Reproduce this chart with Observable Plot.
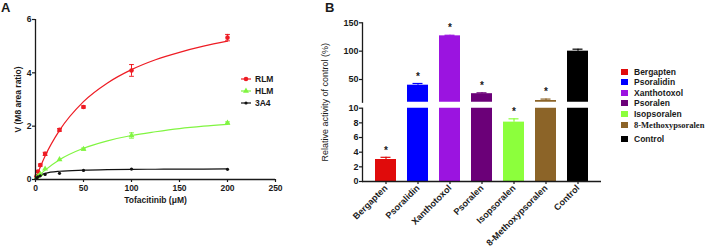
<!DOCTYPE html>
<html><head><meta charset="utf-8">
<script src="https://cdn.jsdelivr.net/npm/d3@7"></script>
<script src="https://cdn.jsdelivr.net/npm/@observablehq/plot@0.6"></script>
<style>
html,body{margin:0;padding:0;background:#fff;}
#root{position:relative;width:708px;height:250px;overflow:hidden;font-family:"Liberation Sans",Arial,sans-serif;color:#1a1a1a;}
.panel{position:absolute;font-weight:bold;font-size:13px;line-height:13px;}
.legrow{position:absolute;font-weight:bold;font-size:8.5px;line-height:10px;white-space:nowrap;}
.sw{position:absolute;}
</style></head><body><div id="root"></div>
<script>
// ---------- Panel A data ----------
const conc = [1, 2.5, 5, 10, 25, 50, 100, 200];
const rlm = [0.12, 0.3, 0.54, 0.96, 1.86, 2.72, 4.09, 5.32];
const rlmErr = [0.02, 0.03, 0.04, 0.06, 0.05, 0.04, 0.22, 0.12];
const hlm = [0.06, 0.12, 0.2, 0.4, 0.75, 1.14, 1.65, 2.12];
const hlmErr = [0.01, 0.01, 0.02, 0.03, 0.03, 0.04, 0.1, 0.04];
const a3a4 = [0.05, 0.1, 0.14, 0.19, 0.23, 0.34, 0.39, 0.38];
const a3a4Err = [0.01, 0.01, 0.01, 0.01, 0.02, 0.02, 0.02, 0.02];
const fitX = [0, 2.5, 5, 10, 25, 50, 75, 100, 125, 150, 175, 200];
const rlmFit = [0, 0.25, 0.47, 0.88, 1.84, 2.92, 3.62, 4.12, 4.49, 4.77, 5.0, 5.19];
const hlmFit = [0, 0.1, 0.19, 0.35, 0.74, 1.17, 1.45, 1.65, 1.79, 1.91, 2.0, 2.07];
const a3a4Fit = [0, 0.1, 0.16, 0.23, 0.31, 0.35, 0.37, 0.38, 0.385, 0.39, 0.39, 0.395];
const seriesA = ["RLM", "HLM", "3A4"];
const colorsA = ["#ee1c24", "#80f541", "#111111"];
const xTicksA = [0, 50, 100, 150, 200, 250];
const yTicksA = [0, 2, 4, 6];

// ---------- Panel B data ----------
const compounds = ["Bergapten", "Psoralidin", "Xanthotoxol", "Psoralen", "Isopsoralen", "8-Methoxypsoralen", "Control"];
const activity = [3.0, 40, 127, 25, 8.1, 13, 100];
const activityErr = [0.3, 3, 1, 1.5, 0.45, 2.5, 3.5];
const significant = [true, true, true, true, true, true, false];
const colorsB = ["#e00b0b", "#0000ff", "#9b14e0", "#6b0078", "#8cff3c", "#8c6428", "#000000"];
const yTicksLow = [0, 2, 4, 6, 8, 10];
const yTicksHigh = [50, 100, 150];

// ---------- build tables ----------
const valsA = [rlm, hlm, a3a4], errsA = [rlmErr, hlmErr, a3a4Err], fitsA = [rlmFit, hlmFit, a3a4Fit];
const rowsA = seriesA.flatMap((s, i) => conc.map((c, j) => ({series: s, x: c, y: valsA[i][j], err: errsA[i][j]})));
const fitRows = seriesA.flatMap((s, i) => fitX.map((c, j) => ({series: s, x: c, y: fitsA[i][j]})));
const errRowsA = rowsA.filter(d => d.err >= 0.04);
const capRowsA = errRowsA.flatMap(d => [{series: d.series, x: d.x, y: d.y + d.err}, {series: d.series, x: d.x, y: d.y - d.err}]);

const barRows = compounds.map((name, i) => ({name, value: activity[i], err: activityErr[i], top: activity[i] + activityErr[i], sig: significant[i]}));
const lowRows = barRows.filter(d => d.top <= 10);
const highRows = barRows.filter(d => d.top > 10);

const W = 708, H = 250;
const font = "'Liberation Sans', Arial, sans-serif";
const svgStyle = {background: "transparent", overflow: "visible", fontFamily: font, color: "#1a1a1a", position: "absolute", left: "0px", top: "0px"};
const capSymbol = {draw(ctx, size) { const r = Math.sqrt(size / Math.PI); ctx.moveTo(-r, 0); ctx.lineTo(r, 0); }};
const fmt = d => String(d);

const root = document.getElementById("root");

// ---------- Panel A ----------
const plotA = Plot.plot({
  width: W, height: H,
  marginLeft: 35, marginRight: W - 275, marginTop: 19, marginBottom: H - 179,
  x: {domain: [0, 250], axis: null},
  y: {domain: [0, 6], axis: null},
  color: {domain: seriesA, range: colorsA},
  style: svgStyle,
  marks: [
    Plot.line(fitRows, {x: "x", y: "y", z: "series", stroke: "series", curve: "monotone-x", strokeWidth: 1.2}),
    Plot.ruleX(errRowsA, {x: "x", y1: d => d.y - d.err, y2: d => d.y + d.err, stroke: "series", strokeWidth: 1}),
    Plot.dot(capRowsA, {x: "x", y: "y", symbol: capSymbol, r: 2.4, stroke: "series", fill: "none", strokeWidth: 1}),
    Plot.dot(rowsA.filter(d => d.series === "RLM"), {x: "x", y: "y", fill: "series", symbol: "circle", r: 2.3}),
    Plot.dot(rowsA.filter(d => d.series === "HLM"), {x: "x", y: "y", fill: "series", symbol: "triangle", r: 2.2}),
    Plot.dot(rowsA.filter(d => d.series === "3A4"), {x: "x", y: "y", fill: "series", symbol: "circle", r: 1.6}),
    Plot.ruleY([0], {strokeWidth: 1.3}),
    Plot.ruleX([0], {strokeWidth: 1.3}),
    Plot.axisX({ticks: xTicksA, tickFormat: fmt, tickSize: 3, tickPadding: 2, fontSize: 8.5, fontWeight: "bold", label: null, strokeWidth: 1.2}),
    Plot.axisY({ticks: yTicksA, tickFormat: fmt, tickSize: 3, tickPadding: 1, fontSize: 8.5, fontWeight: "bold", label: null, strokeWidth: 1.2}),
    Plot.text(["Tofacitinib (μM)"], {frameAnchor: "bottom", dy: 23, fontSize: 8.5, fontWeight: "bold"}),
    Plot.text(["V (M8 area ratio)"], {frameAnchor: "left", rotate: -90, dx: -17, textAnchor: "middle", lineAnchor: "middle", fontSize: 8.5, fontWeight: "bold"})
  ]
});
root.appendChild(plotA);

// ---------- Panel B lower segment ----------
const plotBLow = Plot.plot({
  width: W, height: H,
  marginLeft: 362, marginRight: W - 601, marginTop: 107.7, marginBottom: H - 181,
  x: {domain: compounds, padding: 0.33, axis: null},
  y: {domain: [0, 10], axis: null},
  color: {domain: compounds, range: colorsB},
  style: svgStyle,
  marks: [
    Plot.barY(barRows, {x: "name", y: "value", fill: "name", clip: true}),
    Plot.ruleX(lowRows, {x: "name", y1: "value", y2: "top", stroke: "name", strokeWidth: 1.2}),
    Plot.tickY(lowRows, {x: "name", y: "top", stroke: "name", strokeWidth: 1.2, insetLeft: 5.5, insetRight: 5.5}),
    Plot.text(barRows.filter(d => d.sig && d.top <= 10), {x: "name", y: "top", text: () => "*", dy: -7, fontSize: 10, fontWeight: "bold"}),
    Plot.ruleY([0], {strokeWidth: 1.3}),
    Plot.frame({anchor: "left", strokeWidth: 1.3}),
    Plot.axisY({ticks: yTicksLow, tickFormat: fmt, tickSize: 3, tickPadding: 1, fontSize: 9, fontWeight: "bold", label: null, strokeWidth: 1.2}),
    Plot.axisX({tickRotate: -45, tickSize: 3, tickPadding: 2, fontSize: 9, fontWeight: "bold", label: null, strokeWidth: 1.2})
  ]
});
root.appendChild(plotBLow);

// ---------- Panel B upper segment ----------
const plotBHigh = Plot.plot({
  width: W, height: H,
  marginLeft: 362, marginRight: W - 601, marginTop: 22.3, marginBottom: H - 101.7,
  x: {domain: compounds, padding: 0.33, axis: null},
  y: {domain: [10, 150], axis: null},
  color: {domain: compounds, range: colorsB},
  style: svgStyle,
  marks: [
    Plot.barY(barRows, {x: "name", y: "value", fill: "name", clip: true}),
    Plot.ruleX(highRows, {x: "name", y1: "value", y2: "top", stroke: "name", strokeWidth: 1.2}),
    Plot.tickY(highRows, {x: "name", y: "top", stroke: "name", strokeWidth: 1.2, insetLeft: 5.5, insetRight: 5.5}),
    Plot.text(highRows.filter(d => d.sig), {x: "name", y: "top", text: () => "*", dy: -7, fontSize: 10, fontWeight: "bold"}),
    Plot.frame({anchor: "left", strokeWidth: 1.3}),
    Plot.axisY({ticks: yTicksHigh, tickFormat: fmt, tickSize: 3, tickPadding: 1, fontSize: 9, fontWeight: "bold", label: null, strokeWidth: 1.2}),
    Plot.text(["Relative activity of control (%)"], {frameAnchor: "bottom-left", rotate: -90, dx: -37, textAnchor: "middle", lineAnchor: "middle", fontSize: 9})
  ]
});
root.appendChild(plotBHigh);

// ---------- panel letters ----------
function addDiv(cls, left, top, text, extra) {
  const d = document.createElement("div");
  d.className = cls; d.style.left = left + "px"; d.style.top = top + "px";
  if (text != null) d.textContent = text;
  if (extra) Object.assign(d.style, extra);
  root.appendChild(d); return d;
}
addDiv("panel", 1, 1, "A");
addDiv("panel", 325, 1, "B");

// ---------- legend A ----------
const legAy = [79, 91, 102.7];
const legSym = ["circle", "triangle", "circle"];
const legR = [2.3, 2.2, 1.6];
seriesA.forEach((s, i) => {
  const svg = d3.create("svg").attr("width", 12).attr("height", 8).attr("class", "sw")
    .style("left", "240px").style("top", (legAy[i] - 4) + "px");
  svg.append("line").attr("x1", 1).attr("x2", 11).attr("y1", 4).attr("y2", 4).attr("stroke", colorsA[i]).attr("stroke-width", 1.2);
  const sym = legSym[i] === "circle" ? d3.symbolCircle : d3.symbolTriangle;
  svg.append("path").attr("d", d3.symbol(sym, legR[i] * legR[i] * Math.PI)()).attr("transform", "translate(6,4)").attr("fill", colorsA[i]);
  root.appendChild(svg.node());
  addDiv("legrow", 255, legAy[i] - 5, s);
});

// ---------- legend B ----------
const legBy = [71.7, 82.3, 93, 103.3, 114, 124.7, 139.3];
compounds.forEach((c, i) => {
  addDiv("sw", 621, legBy[i] - 3, null, {width: "7px", height: "6px", background: colorsB[i]});
  const t = addDiv("legrow", 634, legBy[i] - 5, c);
  if (c === "8-Methoxypsoralen") { t.style.fontFamily = "'Liberation Serif', 'Times New Roman', serif"; t.style.fontSize = "8.5px"; }
});
</script></body></html>
